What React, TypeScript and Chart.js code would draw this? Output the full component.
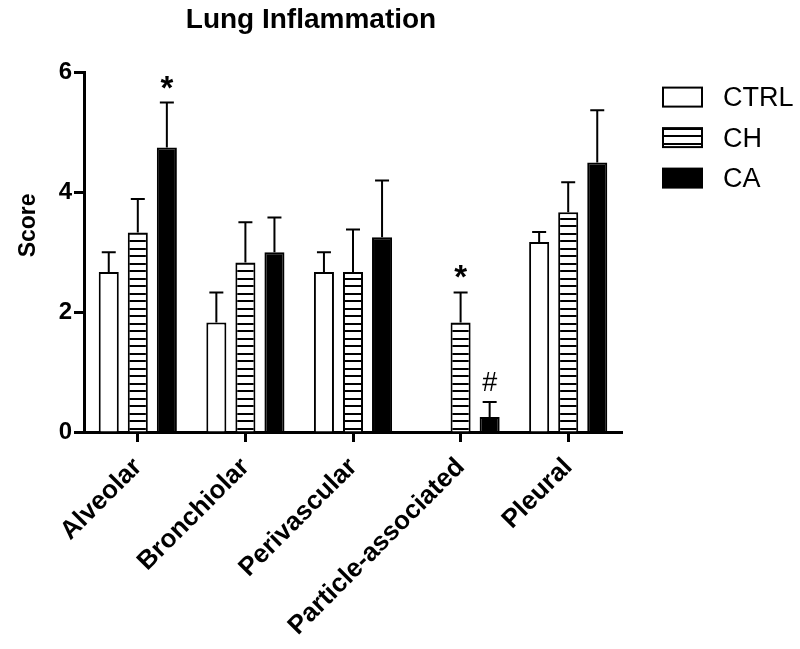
import { useEffect, useRef } from 'react';
import { Chart, registerables } from 'chart.js';

Chart.register(...registerables);

const categories = ['Alveolar', 'Bronchiolar', 'Perivascular', 'Particle-associated', 'Pleural'];
const seriesNames = ['CTRL', 'CH', 'CA'];
const ctrlValues = [2.67, 1.83, 2.67, 0, 3.17];
const ctrlErrors = [0.33, 0.5, 0.33, 0, 0.17];
const chValues = [3.33, 2.83, 2.67, 1.83, 3.67];
const chErrors = [0.56, 0.67, 0.71, 0.5, 0.5];
const caValues = [4.75, 3.0, 3.25, 0.25, 4.5];
const caErrors = [0.75, 0.58, 0.95, 0.25, 0.87];
const yTicks = [0, 2, 4, 6];
const marks = [
  { category: 0, series: 2, symbol: '*' },
  { category: 3, series: 1, symbol: '*' },
  { category: 3, series: 2, symbol: '#' },
];

const FONT = "Arial, 'Liberation Sans', Helvetica, sans-serif";

export default function App() {
  const ref = useRef<HTMLCanvasElement>(null);

  useEffect(() => {
    document.body.style.margin = '0';
    const canvas = ref.current!;
    const ctx0 = canvas.getContext('2d')!;

    const pc = document.createElement('canvas');
    pc.width = 8;
    pc.height = 15;
    const p = pc.getContext('2d')!;
    p.fillStyle = '#ffffff';
    p.fillRect(0, 0, 8, 15);
    p.fillStyle = '#000000';
    p.fillRect(0, 0, 8, 2);
    p.fillRect(0, 8, 8, 2);
    const hatch = ctx0.createPattern(pc, 'repeat')!;

    const errorBars = {
      id: 'errorBars',
      afterDatasetsDraw(chart: any) {
        const ctx = chart.ctx;
        const ys = chart.scales.y;
        chart.data.datasets.forEach((ds: any, i: number) => {
          const meta = chart.getDatasetMeta(i);
          meta.data.forEach((bar: any, j: number) => {
            const v = ds.data[j];
            const e = ds.errors[j];
            if (!e) return;
            const x = bar.x;
            const y0 = ys.getPixelForValue(v);
            const y1 = ys.getPixelForValue(v + e);
            ctx.save();
            ctx.strokeStyle = '#000';
            ctx.lineWidth = 2;
            ctx.beginPath();
            ctx.moveTo(x, y0);
            ctx.lineTo(x, y1);
            ctx.moveTo(x - 7, y1);
            ctx.lineTo(x + 7, y1);
            ctx.stroke();
            ctx.restore();
          });
        });
        // significance marks
        marks.forEach((m) => {
          const ds: any = chart.data.datasets[m.series];
          const bar: any = chart.getDatasetMeta(m.series).data[m.category];
          const top = ys.getPixelForValue(ds.data[m.category] + ds.errors[m.category]);
          ctx.save();
          ctx.fillStyle = '#000';
          ctx.textAlign = 'center';
          ctx.textBaseline = 'alphabetic';
          if (m.symbol === '*') {
            ctx.font = `bold 33px ${FONT}`;
            ctx.fillText(m.symbol, bar.x, top - 4);
          } else {
            ctx.font = `27px ${FONT}`;
            ctx.fillText(m.symbol, bar.x, top - 11);
          }
          ctx.restore();
        });
      },
    };

    const extras = {
      id: 'extras',
      afterDraw(chart: any) {
        const ctx = chart.ctx;
        const area = chart.chartArea;
        ctx.save();
        // y axis title
        ctx.fillStyle = '#000';
        ctx.font = `bold 23px ${FONT}`;
        ctx.textAlign = 'center';
        ctx.textBaseline = 'middle';
        ctx.translate(29, area.top + (area.bottom - area.top) * 0.425);
        ctx.rotate(-Math.PI / 2);
        ctx.fillText('Score', 0, 0);
        ctx.restore();

        // legend
        const bx = area.right + 41;
        chart.data.datasets.forEach((ds: any, i: number) => {
          const by = area.top + 15 + i * 40.5;
          ctx.save();
          ctx.fillStyle = ds.backgroundColor;
          ctx.fillRect(bx, by, 39, 19);
          ctx.strokeStyle = '#000';
          ctx.lineWidth = 2;
          ctx.strokeRect(bx, by, 39, 19);
          ctx.fillStyle = '#000';
          ctx.font = `27px ${FONT}`;
          ctx.textAlign = 'left';
          ctx.textBaseline = 'middle';
          ctx.fillText(ds.label, bx + 60, by + 11);
          ctx.restore();
        });
      },
    };

    const chart = new Chart(canvas, {
      type: 'bar',
      data: {
        labels: categories,
        datasets: [
          { label: seriesNames[0], data: ctrlValues, errors: ctrlErrors, backgroundColor: '#ffffff' } as any,
          { label: seriesNames[1], data: chValues, errors: chErrors, backgroundColor: hatch } as any,
          { label: seriesNames[2], data: caValues, errors: caErrors, backgroundColor: '#000000' } as any,
        ].map((d) => ({
          ...d,
          borderColor: '#000000',
          borderWidth: 2,
          barPercentage: 0.69,
          categoryPercentage: 0.81,
        })),
      },
      options: {
        responsive: false,
        animation: false,
        events: [],
        layout: { padding: { left: 0, right: 178, top: 0, bottom: 0 } },
        plugins: {
          legend: { display: false },
          tooltip: { enabled: false },
          title: {
            display: true,
            text: 'Lung Inflammation',
            color: '#000',
            font: { family: FONT, size: 28, weight: 'bold' },
            padding: { top: 3, bottom: 36 },
          },
        },
        scales: {
          x: {
            grid: {
              display: true,
              offset: false,
              drawOnChartArea: false,
              drawTicks: true,
              tickLength: 10,
              tickWidth: 3,
              tickColor: '#000',
            },
            border: { display: true, color: '#000', width: 3 },
            ticks: {
              color: '#000',
              font: { family: FONT, size: 26, weight: 'bold' },
              minRotation: 45,
              maxRotation: 45,
              autoSkip: false,
              padding: 10,
            },
            afterFit: (s: any) => {
              s.height = 217;
            },
          },
          y: {
            min: 0,
            max: 6,
            grid: {
              display: true,
              drawOnChartArea: false,
              drawTicks: true,
              tickLength: 10,
              tickWidth: 3,
              tickColor: '#000',
            },
            border: { display: true, color: '#000', width: 3 },
            ticks: {
              color: '#000',
              font: { family: FONT, size: 24, weight: 'bold' },
              padding: 2,
              stepSize: 2,
              callback: (v: any) => (yTicks.includes(Number(v)) ? String(v) : ''),
            },
            afterFit: (s: any) => {
              s.width = 84;
            },
          },
        },
      },
      plugins: [errorBars, extras],
    });

    return () => chart.destroy();
  }, []);

  return (
    <div style={{ width: 800, height: 649 }}>
      <canvas ref={ref} width={800} height={649} style={{ display: 'block' }} />
    </div>
  );
}
